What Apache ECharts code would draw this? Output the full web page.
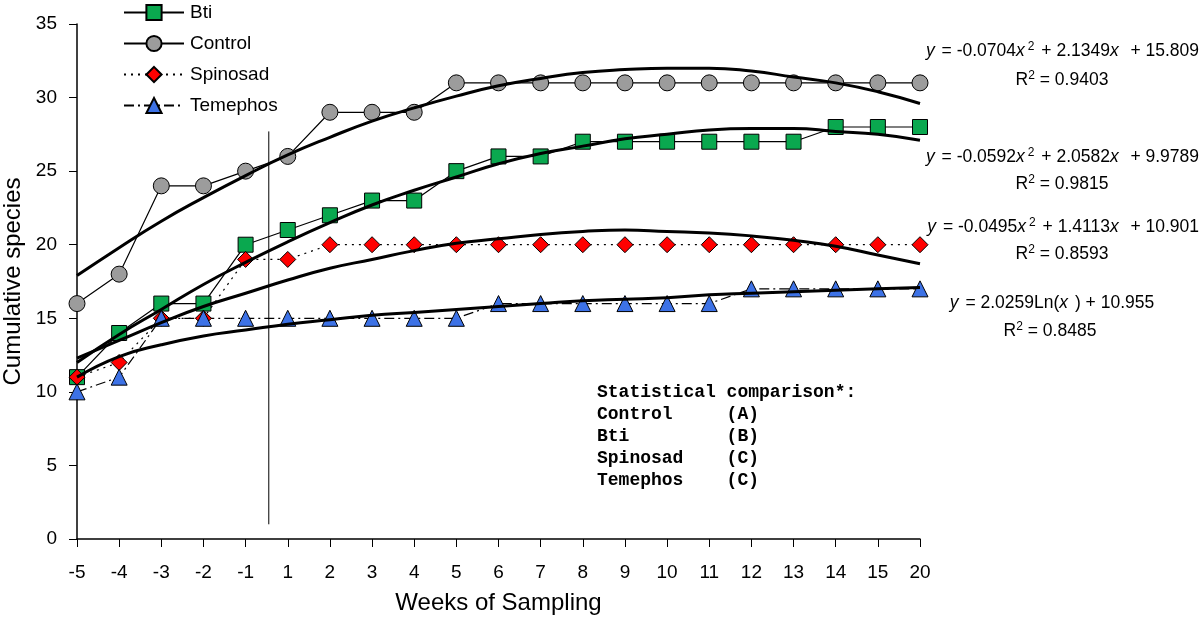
<!DOCTYPE html>
<html>
<head>
<meta charset="utf-8">
<script src="https://cdn.jsdelivr.net/npm/echarts@6/dist/echarts.min.js"></script>
<style>html,body{margin:0;padding:0;background:#fff}#c{width:1200px;height:618px}</style>
</head>
<body>
<div id="c"></div>
<script>
var weeks = ['-5','-4','-3','-2','-1','1','2','3','4','5','6','7','8','9','10','11','12','13','14','15','20'];
var bti      = [11,14,16,16,20,21,22,23,23,25,26,26,27,27,27,27,27,27,28,28,28];
var control  = [16,18,24,24,25,26,29,29,29,31,31,31,31,31,31,31,31,31,31,31,31];
var spinosad = [11,12,15,15,19,19,20,20,20,20,20,20,20,20,20,20,20,20,20,20,20];
var temephos = [10,11,15,15,15,15,15,15,15,15,16,16,16,16,16,16,17,17,17,17,17];
// fitted trend curves at each sampling week
var controlTrend  = [17.9,19.8,21.6,23.2,24.7,26.1,27.3,28.4,29.3,30.1,30.8,31.3,31.7,31.9,32.0,32.0,31.8,31.4,31.0,30.4,29.6];
var btiTrend      = [12.0,13.9,15.6,17.3,18.8,20.2,21.5,22.7,23.7,24.6,25.5,26.2,26.7,27.2,27.5,27.8,27.9,27.9,27.7,27.5,27.1];
var spinosadTrend = [12.3,13.5,14.7,15.8,16.7,17.6,18.4,19.0,19.6,20.1,20.4,20.7,20.9,21.0,20.9,20.8,20.6,20.3,19.9,19.3,18.7];
var temephosTrend = [11.0,12.4,13.2,13.8,14.2,14.6,14.9,15.2,15.4,15.6,15.8,16.0,16.2,16.3,16.4,16.6,16.7,16.8,16.9,17.0,17.1];
// treatment start marker (between week -1 and week 1)
var startLine = [[4.55, 1.0], [4.55, 27.7]];
var yTicks = {min: 0, max: 35, interval: 5};

var FONT = 'Liberation Sans, Arial, sans-serif';
var chart = echarts.init(document.getElementById('c'), null, {renderer: 'canvas'});

function dataSeries(name, data, symbol, color, lineType, size) {
  return {
    name: name, type: 'line', data: data, symbol: symbol, symbolSize: size,
    showAllSymbol: true, z: 3,
    itemStyle: {color: color, borderColor: '#000', borderWidth: 1},
    lineStyle: {color: '#000', width: 1.2, type: lineType},
    emphasis: {disabled: true}, animation: false
  };
}
function trendSeries(data) {
  return {
    type: 'line', data: data, symbol: 'none', smooth: true, z: 4,
    lineStyle: {color: '#000', width: 3},
    emphasis: {disabled: true}, animation: false, silent: true
  };
}
var FS = 17.5;
var eqRich = {
  i: {fontStyle: 'italic', fontSize: FS, fontFamily: FONT, color: '#000', padding: [0, 2, 0, 0]},
  s: {fontSize: 12, fontFamily: FONT, color: '#000', verticalAlign: 'top', padding: [0, 2, 8, 1]},
  r: {fontSize: 12, fontFamily: FONT, color: '#000', verticalAlign: 'top', padding: [0, 0, 8, 0]},
  n: {fontSize: FS, fontFamily: FONT, color: '#000'}
};
function eq(x, y, text, align) {
  return {type: 'text', x: x, y: y, style: {text: text, rich: eqRich, font: FS + 'px ' + FONT, fill: '#000', align: align || 'left', verticalAlign: 'middle'}};
}
var statText = 'Statistical comparison*:\nControl     (A)\nBti         (B)\nSpinosad    (C)\nTemephos    (C)';

chart.setOption({
  animation: false,
  grid: {left: 77, right: 280, top: 24, bottom: 79, containLabel: false, outerBoundsMode: 'none'},
  legend: {
    data: ['Bti', 'Control', 'Spinosad', 'Temephos'],
    orient: 'vertical', left: 123, top: 3, padding: 0,
    itemWidth: 60, itemHeight: 19, itemGap: 12,
    textStyle: {fontSize: 19, fontFamily: FONT, color: '#000', padding: [0, 0, 0, 1]},
    selectedMode: false
  },
  xAxis: [{
    type: 'category', data: weeks, boundaryGap: false,
    axisLine: {lineStyle: {color: '#000', width: 1.5}},
    axisTick: {show: true, interval: 0, inside: false, length: 8, lineStyle: {color: '#000', width: 1}},
    axisLabel: {interval: 0, margin: 24, fontSize: 19, fontFamily: FONT, color: '#000'},
    splitLine: {show: false},
    name: 'Weeks of Sampling', nameLocation: 'middle', nameGap: 52,
    nameTextStyle: {fontSize: 24, fontFamily: FONT, color: '#000'}
  }, {
    type: 'value', min: 0, max: 20, show: false, position: 'bottom'
  }],
  yAxis: {
    type: 'value', min: yTicks.min, max: yTicks.max, interval: yTicks.interval,
    axisLine: {show: true, lineStyle: {color: '#000', width: 1.5}},
    axisTick: {show: true, inside: false, length: 8, lineStyle: {color: '#000', width: 1}},
    axisLabel: {margin: 20, fontSize: 19, fontFamily: FONT, color: '#000'},
    splitLine: {show: false},
    name: 'Cumulative species', nameLocation: 'middle', nameGap: 47, nameRotate: 90,
    nameTextStyle: {fontSize: 24, fontFamily: FONT, color: '#000'}
  },
  series: [
    dataSeries('Bti', bti, 'rect', '#0aa84f', 'solid', 15),
    dataSeries('Control', control, 'circle', '#9c9c9c', 'solid', 16),
    dataSeries('Spinosad', spinosad, 'diamond', '#ff0000', [2, 5], 16),
    dataSeries('Temephos', temephos, 'triangle', '#3d72e6', [10, 4, 2, 4], 16),
    trendSeries(controlTrend),
    trendSeries(btiTrend),
    trendSeries(spinosadTrend),
    trendSeries(temephosTrend),
    {
      type: 'line', xAxisIndex: 1, data: startLine, symbol: 'none', z: 2,
      lineStyle: {color: '#000', width: 1}, silent: true, animation: false
    }
  ],
  graphic: [
    eq(1199, 51, '{i|y}{n| = -0.0704}{i|x}{s|2}{n| + 2.1349}{i|x}{n|  + 15.809}', 'right'),
    eq(1062, 80, '{n|R}{r|2}{n| = 0.9403}', 'center'),
    eq(1199, 157, '{i|y}{n| = -0.0592}{i|x}{s|2}{n| + 2.0582}{i|x}{n|  + 9.9789}', 'right'),
    eq(1062, 184, '{n|R}{r|2}{n| = 0.9815}', 'center'),
    eq(1199, 227, '{i|y}{n| = -0.0495}{i|x}{s|2}{n| + 1.4113}{i|x}{n|  + 10.901}', 'right'),
    eq(1062, 254, '{n|R}{r|2}{n| = 0.8593}', 'center'),
    eq(1052, 303, '{i|y}{n| = 2.0259Ln(}{i|x}{n| ) + 10.955}', 'center'),
    eq(1050, 331, '{n|R}{r|2}{n| = 0.8485}', 'center'),
    {type: 'text', x: 597, y: 381, style: {text: statText, font: 'bold 18px Liberation Mono, Courier New, monospace', fill: '#000', lineHeight: 22}}
  ]
});
</script>
</body>
</html>
